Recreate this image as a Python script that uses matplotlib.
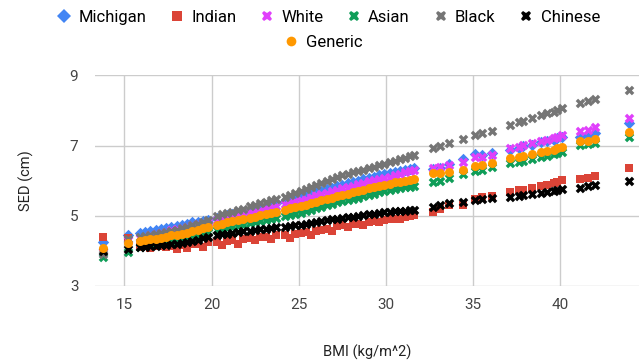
import matplotlib
matplotlib.use("Agg")
import matplotlib.pyplot as plt
from matplotlib.lines import Line2D

plt.rcParams['font.family'] = ['Roboto', 'DejaVu Sans']

# BMI values (kg/m^2), shared by every series
bmi = [13.8, 15.2,
       15.9, 16.2, 16.5, 16.8, 17.1, 17.4, 17.7, 18.0, 18.3, 18.6, 18.9, 19.2, 19.5, 19.8,
       20.3, 20.6, 20.9, 21.2, 21.5, 21.8,
       22.2, 22.5, 22.8, 23.1, 23.4, 23.7,
       24.2, 24.5, 24.8, 25.1, 25.4, 25.7, 26.0, 26.3, 26.6, 26.9, 27.2, 27.5, 27.8,
       28.1, 28.4, 28.7, 29.0, 29.3, 29.6, 29.9, 30.2, 30.5, 30.8, 31.1, 31.4, 31.6,
       32.7, 33.1, 33.6, 34.4, 35.1, 35.5, 36.05,
       37.1, 37.6, 37.85, 38.35, 38.9, 39.2, 39.6, 39.8, 40.1,
       41.1, 41.55, 42.0, 43.95]

# SED (cm) per group
michigan = [4.24, 4.46,
            4.50, 4.53, 4.56, 4.59, 4.63, 4.66, 4.69, 4.72, 4.75, 4.78, 4.81, 4.83, 4.86, 4.89,
            4.94, 4.98, 5.01, 5.05, 5.08, 5.12,
            5.17, 5.21, 5.24, 5.28, 5.32, 5.36,
            5.43, 5.47, 5.50, 5.54, 5.59, 5.63, 5.67, 5.72, 5.76, 5.80, 5.85, 5.89, 5.93,
            5.96, 6.00, 6.04, 6.07, 6.11, 6.15, 6.19, 6.22, 6.25, 6.28, 6.31, 6.34, 6.36,
            6.33, 6.37, 6.47, 6.61, 6.75, 6.73, 6.78,
            6.88, 6.93, 6.98, 7.03, 7.10, 7.12, 7.17, 7.21, 7.26,
            7.24, 7.30, 7.35, 7.64]

indian = [4.40, 4.37,
          4.12, 4.13, 4.08, 4.14, 4.15, 4.10, 4.15, 4.06, 4.16, 4.08, 4.19, 4.20, 4.12, 4.24,
          4.26, 4.16, 4.29, 4.31, 4.20, 4.34,
          4.37, 4.30, 4.40, 4.41, 4.34, 4.44,
          4.46, 4.38, 4.49, 4.51, 4.53, 4.46, 4.58, 4.60, 4.62, 4.58, 4.70, 4.73, 4.69,
          4.76, 4.78, 4.74, 4.82, 4.84, 4.81, 4.88, 4.90, 4.92, 4.90, 4.96, 4.99, 5.02,
          5.12, 5.19, 5.31, 5.31, 5.47, 5.53, 5.56,
          5.69, 5.74, 5.74, 5.78, 5.85, 5.88, 5.93, 5.97, 6.02,
          6.04, 6.07, 6.14, 6.37]

white = [3.97, 4.30,
         4.38, 4.41, 4.45, 4.48, 4.52, 4.55, 4.59, 4.62, 4.66, 4.69, 4.73, 4.76, 4.79, 4.83,
         4.88, 4.92, 4.95, 4.98, 5.02, 5.05,
         5.10, 5.13, 5.17, 5.21, 5.25, 5.28,
         5.34, 5.38, 5.41, 5.44, 5.49, 5.53, 5.58, 5.62, 5.66, 5.70, 5.75, 5.79, 5.83,
         5.86, 5.90, 5.94, 5.98, 6.01, 6.05, 6.08, 6.12, 6.16, 6.20, 6.24, 6.28, 6.30,
         6.35, 6.38, 6.45, 6.54, 6.69, 6.67, 6.74,
         6.92, 6.97, 7.02, 7.07, 7.14, 7.16, 7.21, 7.25, 7.30,
         7.42, 7.46, 7.54, 7.80]

asian = [3.82, 3.98,
         4.12, 4.15, 4.17, 4.20, 4.22, 4.25, 4.27, 4.30, 4.32, 4.36, 4.40, 4.45, 4.49, 4.54,
         4.60, 4.63, 4.66, 4.69, 4.72, 4.75,
         4.79, 4.82, 4.85, 4.88, 4.91, 4.94,
         4.99, 5.02, 5.05, 5.08, 5.13, 5.17, 5.21, 5.25, 5.30, 5.34, 5.38, 5.42, 5.45,
         5.49, 5.52, 5.56, 5.60, 5.63, 5.67, 5.70, 5.74, 5.76, 5.78, 5.81, 5.83, 5.85,
         5.97, 6.00, 6.07, 6.18, 6.28, 6.30, 6.38,
         6.50, 6.54, 6.57, 6.62, 6.68, 6.71, 6.76, 6.80, 6.83,
         7.02, 7.05, 7.07, 7.25]

black = [3.92, 4.35,
         4.40, 4.43, 4.46, 4.49, 4.52, 4.55, 4.58, 4.61, 4.65, 4.69, 4.73, 4.78, 4.83, 4.88,
         5.00, 5.04, 5.08, 5.12, 5.16, 5.20,
         5.28, 5.32, 5.36, 5.40, 5.44, 5.48,
         5.55, 5.60, 5.65, 5.71, 5.77, 5.82, 5.88, 5.94, 5.99, 6.05, 6.11, 6.16, 6.20,
         6.24, 6.28, 6.32, 6.36, 6.40, 6.44, 6.48, 6.52, 6.56, 6.61, 6.65, 6.70, 6.73,
         6.92, 6.99, 7.07, 7.18, 7.30, 7.35, 7.42,
         7.60, 7.68, 7.71, 7.78, 7.87, 7.92, 7.97, 8.03, 8.06,
         8.21, 8.28, 8.33, 8.60]

chinese = [3.99, 4.05,
           4.10, 4.12, 4.13, 4.15, 4.17, 4.18, 4.20, 4.21, 4.23, 4.25, 4.29, 4.32, 4.36, 4.40,
           4.44, 4.47, 4.49, 4.51, 4.53, 4.56,
           4.58, 4.60, 4.62, 4.63, 4.65, 4.67,
           4.69, 4.71, 4.73, 4.75, 4.78, 4.80, 4.83, 4.85, 4.87, 4.90, 4.92, 4.94, 4.96,
           4.98, 5.00, 5.02, 5.04, 5.06, 5.08, 5.10, 5.12, 5.13, 5.14, 5.15, 5.16, 5.17,
           5.24, 5.31, 5.36, 5.40, 5.45, 5.47, 5.50,
           5.54, 5.56, 5.59, 5.61, 5.66, 5.69, 5.72, 5.74, 5.76,
           5.78, 5.85, 5.88, 6.00]

generic = [4.07, 4.22,
           4.27, 4.30, 4.33, 4.35, 4.38, 4.41, 4.44, 4.46, 4.49, 4.52, 4.57, 4.61, 4.65, 4.69,
           4.75, 4.78, 4.81, 4.84, 4.87, 4.90,
           4.94, 4.98, 5.01, 5.05, 5.08, 5.12,
           5.17, 5.21, 5.24, 5.27, 5.31, 5.36, 5.40, 5.44, 5.48, 5.52, 5.56, 5.60, 5.63,
           5.67, 5.70, 5.74, 5.78, 5.81, 5.85, 5.88, 5.92, 5.95, 5.97, 6.00, 6.02, 6.04,
           6.21, 6.23, 6.26, 6.32, 6.42, 6.45, 6.51,
           6.64, 6.68, 6.70, 6.76, 6.83, 6.85, 6.89, 6.94, 6.97,
           7.13, 7.14, 7.18, 7.38]

series = [
    ("Michigan", michigan, "D", "#4285F4", 34),
    ("Indian", indian, "s", "#DB4437", 36),
    ("White", white, "X", "#E040FB", 48),
    ("Asian", asian, "X", "#0F9D58", 48),
    ("Black", black, "X", "#757575", 48),
    ("Chinese", chinese, "X", "#000000", 48),
    ("Generic", generic, "o", "#FF9800", 42),
]

fig = plt.figure(figsize=(6.39, 3.61), dpi=100)
ax = fig.add_axes([0.1487, 0.2078, 0.8513, 0.5831])

for name, vals, mk, col, size in series:
    ax.scatter(bmi, vals, marker=mk, s=size, color=col, linewidths=0, label=name, zorder=3)

ax.set_xlim(13.32, 44.5)
ax.set_ylim(3, 9)
ax.set_xticks([15, 20, 25, 30, 35, 40])
ax.set_yticks([3, 5, 7, 9])
ax.grid(True, color="#cccccc", linewidth=1)
ax.set_axisbelow(True)
for sp in ax.spines.values():
    sp.set_visible(False)
ax.tick_params(length=0, labelsize=11, labelcolor="#444444")
ax.tick_params(axis="x", pad=9)
ax.tick_params(axis="y", pad=12)
ax.set_xlabel("BMI (kg/m^2)", fontsize=10.5, color="#222222", labelpad=23)
ax.set_ylabel("SED (cm)", fontsize=10.5, color="#222222", labelpad=26)

# legend: six entries on top row, Generic centred underneath
handles = [Line2D([], [], linestyle="none", marker=mk, color=col, markersize=7 if mk != "X" else 7.5,
                  markeredgewidth=0) for _, _, mk, col, _ in series]
names = [s[0] for s in series]
fig.legend(handles[:6], names[:6], loc="upper center", bbox_to_anchor=(0.513, 1.0),
           ncol=6, frameon=False, fontsize=12, handletextpad=0.35, columnspacing=1.35,
           handlelength=1.0, borderaxespad=0.2)
fig.legend(handles[6:], names[6:], loc="upper center", bbox_to_anchor=(0.505, 0.93),
           ncol=1, frameon=False, fontsize=12, handletextpad=0.35, handlelength=1.0,
           borderaxespad=0.2)

fig.savefig("out.png", dpi=100)
